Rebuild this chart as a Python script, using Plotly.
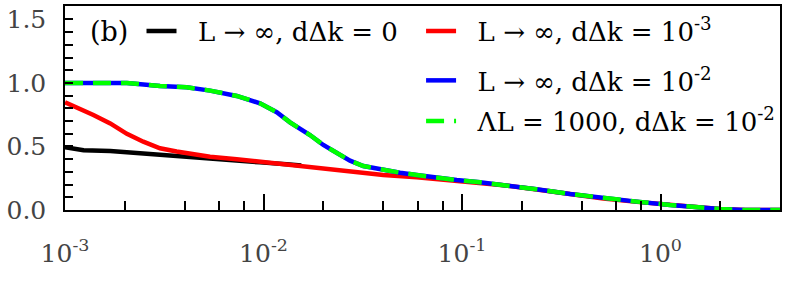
import plotly.graph_objects as go

# values
x_black = [0.001, 0.00124, 0.00169, 0.00221, 0.00301, 0.00394, 0.00538, 0.00733, 0.0096, 0.01309, 0.0155]
y_black = [0.495, 0.47, 0.465, 0.45, 0.433, 0.42, 0.407, 0.388, 0.375, 0.36, 0.35]

x_red = [0.001, 0.00119, 0.00139, 0.00169, 0.00205, 0.00248, 0.00301, 0.00365, 0.00443, 0.00538,
         0.00733, 0.0096, 0.01309, 0.01854, 0.02728, 0.04014, 0.0591, 0.087, 0.1232, 0.1615,
         0.2378, 0.35, 0.515, 0.759, 1.117, 1.522, 1.994, 2.67, 4.0]
y_red = [0.848, 0.80, 0.748, 0.682, 0.60, 0.538, 0.486, 0.46, 0.44, 0.42,
         0.40, 0.38, 0.36, 0.328, 0.302, 0.276, 0.257, 0.236, 0.212, 0.195,
         0.161, 0.124, 0.09, 0.064, 0.038, 0.017, 0.007, 0.0, 0.0]

x_blue = [0.001, 0.00205, 0.00301, 0.0041, 0.00538, 0.00733, 0.0096, 0.01166, 0.0136, 0.01715,
          0.02001, 0.02337, 0.02728, 0.03183, 0.04014, 0.04873, 0.0591, 0.0746, 0.094, 0.1232,
          0.1615, 0.2378, 0.35, 0.515, 0.759, 1.117, 1.522, 1.994, 2.67, 4.0]
y_blue = [1.0, 1.0, 0.976, 0.966, 0.94, 0.898, 0.84, 0.77, 0.69, 0.59,
          0.512, 0.446, 0.388, 0.346, 0.315, 0.294, 0.276, 0.254, 0.236, 0.218,
          0.197, 0.163, 0.126, 0.092, 0.066, 0.039, 0.018, 0.008, 0.0, 0.0]

x_green = x_blue
y_green = y_blue

names = ["L → ∞, dΔk = 0", "L → ∞, dΔk = 10<sup>-3</sup>",
         "L → ∞, dΔk = 10<sup>-2</sup>", "ΛL = 1000, dΔk = 10<sup>-2</sup>"]

x_ticks = [0.001, 0.01, 0.1, 1]
x_labels = ["10<sup>-3</sup>", "10<sup>-2</sup>", "10<sup>-1</sup>", "10<sup>0</sup>"]
x_minor = [m * d for d in [0.001, 0.01, 0.1, 1] for m in [2, 4, 6, 8]]

SERIF = "DejaVu Serif"
NB = "\u00a0\u00a0"

fig = go.Figure()
fig.add_trace(go.Scatter(x=x_black, y=y_black, mode="lines", name=NB + names[0],
                         line=dict(color="#000000", width=4.5), legend="legend"))
fig.add_trace(go.Scatter(x=x_red, y=y_red, mode="lines", name=NB + names[1],
                         line=dict(color="#ff0000", width=4.5), legend="legend2"))
fig.add_trace(go.Scatter(x=x_blue, y=y_blue, mode="lines", name=NB + names[2],
                         line=dict(color="#0000ff", width=4.5), legend="legend3"))
fig.add_trace(go.Scatter(x=x_green, y=y_green, mode="lines", name=NB + names[3],
                         line=dict(color="#00ff00", width=4.5, dash="18px,10px"), legend="legend4"))

leg = dict(font=dict(family=SERIF, size=26, color="#000000"), bgcolor="rgba(0,0,0,0)",
           xanchor="left", yanchor="middle", borderwidth=0)
fig.update_layout(
    width=789, height=283,
    margin=dict(l=65, r=9, t=6, b=73, autoexpand=False),
    paper_bgcolor="white", plot_bgcolor="white",
    showlegend=True,
    legend=dict(leg, x=0.107, y=0.877),
    legend2=dict(leg, x=0.498, y=0.877),
    legend3=dict(leg, x=0.498, y=0.635),
    legend4=dict(leg, x=0.498, y=0.436),
    annotations=[dict(text="(b)", x=0.0615, y=0.877, xref="paper", yref="paper",
                      xanchor="center", yanchor="middle",
                      showarrow=False, font=dict(family=SERIF, size=27, color="#000000"))],
)
fig.update_xaxes(type="log", range=[-3, 0.602], tickvals=x_ticks, ticktext=x_labels,
                 ticks="inside", ticklen=16, tickwidth=1.5, tickcolor="black",
                 minor=dict(tickvals=x_minor, ticks="inside", ticklen=9, tickwidth=1.5, tickcolor="black"),
                 showline=True, linecolor="black", linewidth=1.5, mirror=True,
                 showgrid=False, zeroline=False, ticklabelstandoff=20,
                 tickfont=dict(family=SERIF, size=25, color="#444444"))
fig.update_yaxes(range=[0, 1.606], tickvals=[0, 0.5, 1.0, 1.5], ticktext=["0.0", "0.5", "1.0", "1.5"],
                 ticks="inside", ticklen=8, tickwidth=1.5, tickcolor="black",
                 minor=dict(dtick=0.1, ticks="inside", ticklen=8, tickwidth=1.5, tickcolor="black"),
                 showline=True, linecolor="black", linewidth=1.5, mirror=True,
                 showgrid=False, zeroline=False, ticklabelstandoff=12,
                 tickfont=dict(family=SERIF, size=25, color="#444444"))

# drop the default page margin so the figure sits at the window's corner
fig.write_html("out.html", config={"displayModeBar": False},
               post_script="document.body.style.margin='0';")
